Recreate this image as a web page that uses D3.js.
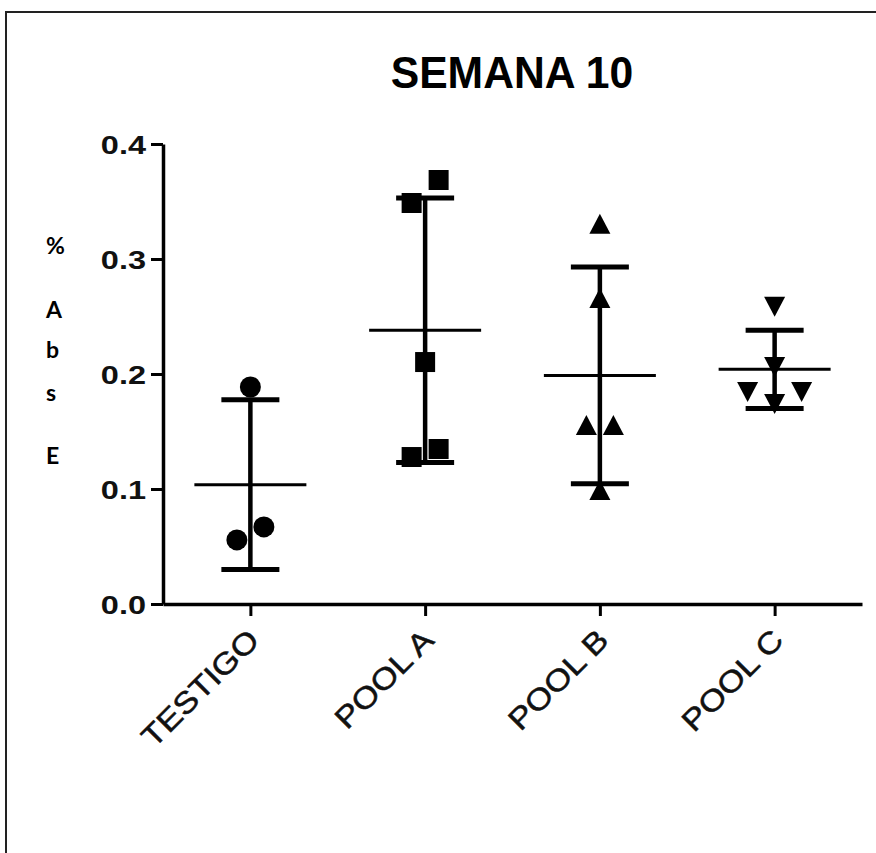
<!DOCTYPE html>
<html>
<head>
<meta charset="utf-8">
<script src="https://cdn.jsdelivr.net/npm/d3@7"></script>
<style>
body { margin: 0; background: #fff; }
</style>
</head>
<body>
<div id="chart"></div>
<script>
// values
const groups = ["TESTIGO", "POOL A", "POOL B", "POOL C"];
const testigo = [0.1887, 0.0670, 0.0557];
const poolA = [0.3687, 0.3487, 0.2104, 0.1348, 0.1278];
const poolB = [0.328, 0.2635, 0.153, 0.153, 0.0965];
const poolC = [0.261, 0.2087, 0.187, 0.187, 0.1765];
const yTicks = [0, 0.1, 0.2, 0.3, 0.4];
const title = "SEMANA 10";
const yLabel = ["%", "A", "b", "s", "E"];

function init() {
    let width = 876;
    let height = 853;
    let svg = d3.select("#chart").append("svg")
        .attr("width", width)
        .attr("height", height);

    // frame of the original picture (top and left edges only)
    svg.append("polyline")
        .attr("points", [[6, height], [6, 12], [width, 12]].join(" "))
        .attr("fill", "none")
        .attr("stroke", "#222")
        .attr("stroke-width", 2);

    let x = d3.scalePoint().domain(groups).range([163, 862]).padding(0.5);
    let y = d3.scaleLinear().domain([0, 0.4]).range([604, 144]);

    let series = [testigo, poolA, poolB, poolC];
    let shapes = ["circle", "square", "triangleUp", "triangleDown"];

    // title
    svg.append("text")
        .attr("x", 512)
        .attr("y", 88)
        .attr("text-anchor", "middle")
        .attr("font-family", "Liberation Sans, Arial, sans-serif")
        .attr("font-weight", "bold")
        .attr("font-size", 44)
        .attr("transform", "translate(512,0) scale(0.97,1) translate(-512,0)")
        .text(title);

    // y axis
    let yAxis = svg.append("g")
        .attr("transform", "translate(163,0)")
        .call(d3.axisLeft(y).tickValues(yTicks).tickFormat(d3.format(".1f")).tickSize(12).tickSizeOuter(0));
    yAxis.select(".domain").attr("stroke-width", 3.5);
    yAxis.selectAll(".tick line").attr("stroke-width", 3);
    yAxis.selectAll(".tick text")
        .attr("x", null)
        .attr("dy", null)
        .attr("transform", "translate(-17,9) scale(1.3,1)")
        .attr("font-family", "Liberation Sans, Arial, sans-serif")
        .attr("font-weight", "bold")
        .attr("font-size", 25)
        .attr("fill", "#111");

    // x axis
    let xAxis = svg.append("g")
        .attr("transform", "translate(0,604)")
        .call(d3.axisBottom(x).tickSize(12).tickSizeOuter(0));
    xAxis.select(".domain").attr("stroke-width", 3.5);
    xAxis.selectAll(".tick line").attr("stroke-width", 3);
    xAxis.selectAll(".tick text")
        .attr("y", null)
        .attr("dy", null)
        .attr("text-anchor", "end")
        .attr("transform", "translate(10,38) rotate(-45) scale(1.15,1)")
        .attr("font-family", "Liberation Sans, Arial, sans-serif")
        .attr("font-size", 30)
        .attr("fill", "#111")
        .attr("stroke", "#111")
        .attr("stroke-width", 0.5);

    // vertical axis label, one letter per line
    let labelY = [254, 318, 358, 401, 464];
    svg.selectAll(".ylab")
        .data(yLabel)
        .join("text")
        .attr("class", "ylab")
        .attr("x", 46)
        .attr("y", (d, i) => labelY[i])
        .attr("font-family", "Lato, Calibri, sans-serif")
        .attr("font-weight", "bold")
        .attr("font-size", 23)
        .text(d => d);

    // spread points that sit at nearly the same height into rows
    function place(values) {
        let sorted = values.map((v, i) => ({v: v, i: i})).sort((a, b) => b.v - a.v);
        let rows = [];
        sorted.forEach(p => {
            let row = rows[rows.length - 1];
            if (row && row[row.length - 1].v - p.v < 0.021) row.push(p);
            else rows.push([p]);
        });
        let spacing = 27;
        let out = [];
        rows.forEach(row => {
            let n = row.length;
            let slots = d3.range(n).map(k => (k - (n - 1) / 2) * spacing);
            let order = row.slice();
            if (n % 2 === 1) {
                let low = order.pop();
                out.push({v: low.v, dx: 0});
                slots.splice((n - 1) / 2, 1);
            }
            slots.reverse();
            order.forEach((p, k) => out.push({v: p.v, dx: slots[k]}));
        });
        return out;
    }

    function marker(shape) {
        if (shape === "circle") return "M10.5,0A10.5,10.5,0,1,1,-10.5,0A10.5,10.5,0,1,1,10.5,0Z";
        if (shape === "square") return "M-10,-10H10V10H-10Z";
        if (shape === "triangleUp") return "M0,-13L10.5,7L-10.5,7Z";
        return "M0,13L10.5,-7L-10.5,-7Z";
    }

    let stats = series.map((vals, i) => {
        let m = d3.mean(vals);
        let sd = d3.deviation(vals);
        return {name: groups[i], mean: m, lo: m - sd, hi: m + sd};
    });

    let g = svg.append("g");

    // SD whiskers
    g.selectAll(".sd")
        .data(stats)
        .join("line")
        .attr("class", "sd")
        .attr("x1", d => x(d.name))
        .attr("x2", d => x(d.name))
        .attr("y1", d => y(d.lo))
        .attr("y2", d => y(d.hi))
        .attr("stroke", "#000")
        .attr("stroke-width", 4.5);

    ["lo", "hi"].forEach(k => {
        g.selectAll(".cap-" + k)
            .data(stats)
            .join("line")
            .attr("class", "cap-" + k)
            .attr("x1", d => x(d.name) - 29)
            .attr("x2", d => x(d.name) + 29)
            .attr("y1", d => y(d[k]))
            .attr("y2", d => y(d[k]))
            .attr("stroke", "#000")
            .attr("stroke-width", 5);
    });

    // mean line
    g.selectAll(".mean")
        .data(stats)
        .join("line")
        .attr("class", "mean")
        .attr("x1", d => x(d.name) - 56)
        .attr("x2", d => x(d.name) + 56)
        .attr("y1", d => y(d.mean))
        .attr("y2", d => y(d.mean))
        .attr("stroke", "#000")
        .attr("stroke-width", 3);

    // points
    series.forEach((vals, i) => {
        g.selectAll(".pt" + i)
            .data(place(vals))
            .join("path")
            .attr("class", "pt" + i)
            .attr("d", marker(shapes[i]))
            .attr("transform", d => "translate(" + (x(groups[i]) + d.dx) + "," + y(d.v) + ")")
            .attr("fill", "#000");
    });
}
window.onload = init;
</script>
</body>
</html>
